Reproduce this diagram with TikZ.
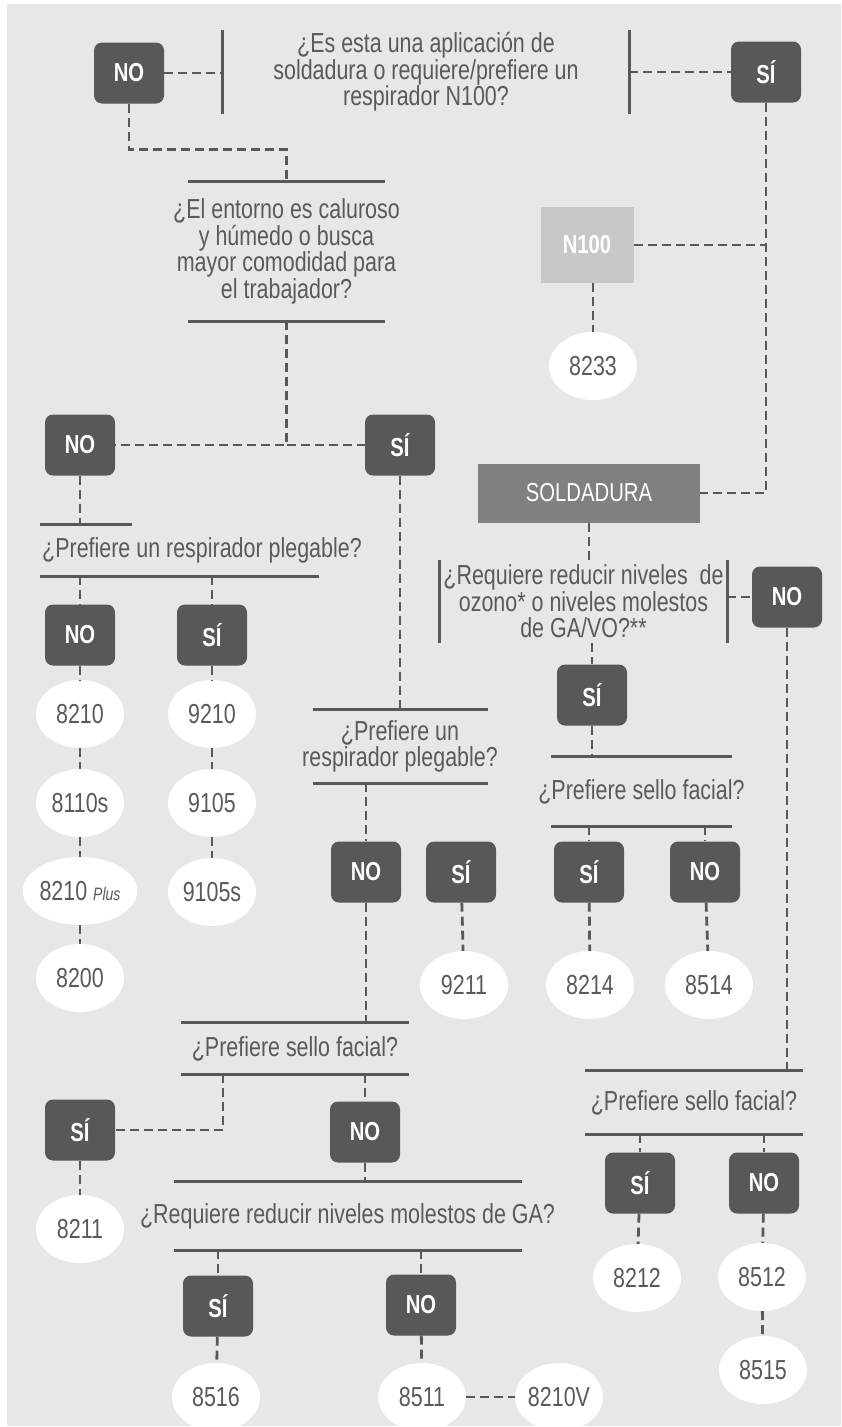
\documentclass[tikz,border=0pt]{standalone}
\usepackage{fontspec}
\setmainfont{Liberation Sans}[FakeStretch=0.78]
\usetikzlibrary{shapes.geometric}
\definecolor{fondo}{HTML}{E7E7E7}
\definecolor{oscuro}{HTML}{58585A}
\definecolor{medio}{HTML}{808083}
\definecolor{claro}{HTML}{C8C8CA}
\definecolor{texto}{HTML}{5A5A5C}

\begin{document}
\begin{tikzpicture}[x=1pt,y=-1pt,
    sino/.style={rectangle, rounded corners=8pt, fill=oscuro, text=white, minimum width=70pt, minimum height=61pt, inner sep=0pt, font=\fontsize{26}{26}\selectfont\bfseries},
    modelo/.style={ellipse, fill=white, text=texto, minimum width=88pt, minimum height=68pt, inner sep=0pt, font=\fontsize{27.5}{27.5}\selectfont},
    preg/.style={align=center, text=texto, inner sep=0pt, font=\fontsize{27.5}{26.5}\selectfont},
    guion/.style={draw=oscuro, line width=2.8pt, dash pattern=on 9pt off 5pt},
    barra/.style={draw=oscuro, line width=3pt}]
    \useasboundingbox (0,0) rectangle (841,1427);
    \fill[white] (0,0) rectangle (841,1427);
    \fill[fondo] (7,4) rectangle (841,1426);

    \node[preg, minimum width=406pt, minimum height=83pt] (q1) at (426,72) {¿Es esta una aplicación de\\soldadura o requiere/prefiere un\\respirador N100?};
    \node[sino] (no1) at (129,73) {NO};
    \node[sino] (si1) at (766,72) {SÍ};
    \node[preg, minimum height=139pt] (q2) at (286.5,251.5) {¿El entorno es caluroso\\y húmedo o busca\\mayor comodidad para\\el trabajador?};
    \node[fill=claro, text=white, minimum width=93pt, minimum height=76pt, inner sep=0pt, font=\fontsize{26}{26}\selectfont\bfseries] (n100) at (587,245) {N100};
    \node[modelo] (e8233) at (593,366) {8233};
    \node[fill=medio, text=white, minimum width=222pt, minimum height=59pt, inner sep=0pt, font=\fontsize{26}{26}\selectfont] (sold) at (589,493) {SOLDADURA};

    \node[sino] (no2) at (80,445) {NO};
    \node[sino] (si2) at (400,445) {SÍ};
    \node[preg, anchor=west, minimum height=51pt] (q9) at (42,550.5) {¿Prefiere un respirador plegable?};
    \node[sino] (no9) at (80,635) {NO};
    \node[sino] (si9) at (212,635) {SÍ};
    \node[modelo] (e8210) at (80,714) {8210};
    \node[modelo] (e8110s) at (80,803) {8110s};
    \node[modelo] (e8210p) at (80,891) {8210 {\fontsize{18}{18}\selectfont\itshape Plus}};
    \node[modelo] (e8200) at (80,978) {8200};
    \node[modelo] (e9210) at (212,714) {9210};
    \node[modelo] (e9105) at (212,803) {9105};
    \node[modelo] (e9105s) at (212,892) {9105s};

    \node[preg, minimum height=73pt] (q5) at (400,746.5) {¿Prefiere un\\respirador plegable?};
    \node[sino] (no5) at (366,872) {NO};
    \node[sino] (si5) at (461,872) {SÍ};
    \node[modelo] (e9211) at (464,985) {9211};
    \node[preg, minimum height=51pt] (q6) at (295,1048.5) {¿Prefiere sello facial?};
    \node[sino] (si6) at (80,1130) {SÍ};
    \node[modelo] (e8211) at (80,1229) {8211};
    \node[sino] (no6) at (365,1132) {NO};
    \node[preg, minimum height=68pt] (q8) at (347.5,1216) {¿Requiere reducir niveles molestos de GA?};
    \node[sino] (si8) at (218,1306) {SÍ};
    \node[sino] (no8) at (421,1305) {NO};
    \node[modelo] (e8516) at (216,1397) {8516};
    \node[modelo] (e8511) at (422,1397) {8511};
    \node[modelo] (e8210v) at (559,1397) {8210V};

    \node[preg, minimum width=287pt, minimum height=83pt] (q3) at (583.5,601.5) {¿Requiere reducir niveles~ de\\ozono* o niveles molestos\\de GA/VO?**};
    \node[sino] (no3) at (787,597) {NO};
    \node[sino] (si3) at (592,695) {SÍ};
    \node[preg, minimum height=69pt] (q4) at (641.5,791.5) {¿Prefiere sello facial?};
    \node[sino] (si4) at (589,872) {SÍ};
    \node[sino] (no4) at (705,872) {NO};
    \node[modelo] (e8214) at (590,985) {8214};
    \node[modelo] (e8514) at (709,985) {8514};
    \node[preg, minimum height=63pt] (q7) at (694,1102.5) {¿Prefiere sello facial?};
    \node[sino] (si7) at (640,1183) {SÍ};
    \node[sino] (no7) at (764,1183) {NO};
    \node[modelo] (e8212) at (637,1278) {8212};
    \node[modelo] (e8512) at (762,1277) {8512};
    \node[modelo] (e8515) at (763,1370) {8515};

    \draw[barra] (q1.north west) -- (q1.south west) (q1.north east) -- (q1.south east);
    \draw[barra] (q3.north west) -- (q3.south west) (q3.north east) -- (q3.south east);
    \foreach \q/\w in {q2/197,q4/181,q5/175,q6/228,q7/218,q8/348}
      \draw[barra] ([xshift=-\w/2]\q.north) -- ([xshift=\w/2]\q.north) ([xshift=-\w/2]\q.south) -- ([xshift=\w/2]\q.south);
    \draw[barra] (q9.north west) ++(-2,0) -- ++(92,0) (q9.south west) ++(-2,0) -- ++(279,0);

    \draw[guion] (no1.east) -- (no1.east -| q1.west);
    \draw[guion] (q1.east |- si1) -- (si1.west);
    \draw[guion] (no1.south) -- ++(0,46) -| (q2.north);
    \draw[guion] (si1.south) |- (sold.east);
    \draw[guion] (n100.east) -- (n100.east -| si1.south);
    \draw[guion] (n100.south -| e8233) -- (e8233.north);
    \draw[guion] (q2.south) |- (no2.east);
    \draw[guion] (q2.south |- si2) -- (si2.west);
    \draw[guion] (no2.south) -- (no2.south |- q9.north);
    \draw[guion] (no9.north |- q9.south) -- (no9.north);
    \draw[guion] (si9.north |- q9.south) -- (si9.north);
    \path[guion] (no9) edge (e8210) (e8210) edge (e8110s) (e8110s) edge (e8210p) (e8210p) edge (e8200)
      (si9) edge (e9210) (e9210) edge (e9105) (e9105) edge (e9105s);

    \draw[guion] (si2.south) -- (si2.south |- q5.north);
    \draw[guion] (no5.north |- q5.south) -- (no5.north);
    \draw[guion] (no5.south) -- (no5.south |- q6.north);
    \draw[guion] ([xshift=-72pt]q6.south) |- (si6.east);
    \draw[guion] (no6.north |- q6.south) -- (no6.north);
    \draw[guion] (no6.south) -- (no6.south |- q8.north);
    \draw[guion] (si8.north |- q8.south) -- (si8.north);
    \draw[guion] (no8.north |- q8.south) -- (no8.north);
    \path[guion] (si5) edge (e9211) (si6) edge (e8211) (si8) edge (e8516) (no8) edge (e8511) (e8511) edge (e8210v);

    \draw[guion] (sold.south) -- (sold.south |- q3.north);
    \draw[guion] (q3.east |- no3) -- (no3.west);
    \draw[guion] (si3.north |- q3.south) -- (si3.north);
    \draw[guion] (si3.south) -- (si3.south |- q4.north);
    \draw[guion] (si4.north |- q4.south) -- (si4.north);
    \draw[guion] (no4.north |- q4.south) -- (no4.north);
    \draw[guion] (no3.south) -- (no3.south |- q7.north);
    \draw[guion] (si7.north |- q7.south) -- (si7.north);
    \draw[guion] (no7.north |- q7.south) -- (no7.north);
    \path[guion] (si4) edge (e8214) (no4) edge (e8514) (si7) edge (e8212) (no7) edge (e8512) (e8512) edge (e8515);
\end{tikzpicture}
\end{document}
